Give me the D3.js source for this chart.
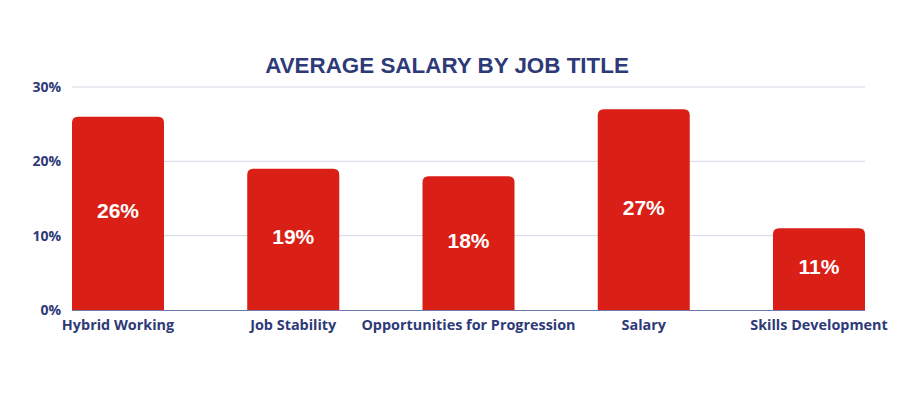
<!DOCTYPE html>
<html><head><meta charset="utf-8">
<script src="https://cdn.jsdelivr.net/npm/d3@7"></script>
<style>body{margin:0;background:#fff}</style>
</head><body>
<svg id="c" width="900" height="400"></svg>
<script>
const categories = ["Hybrid Working","Job Stability","Opportunities for Progression","Salary","Skills Development"];
const values = [26, 19, 18, 27, 11];
const yTicks = [0, 10, 20, 30];
const title = "AVERAGE SALARY BY JOB TITLE";

const svg = d3.select("#c");
const navy = "#2e3a78";
const x = d3.scaleBand().domain(categories).range([72, 865]).paddingInner(0.475).paddingOuter(0);
const y = d3.scaleLinear().domain([0, 30]).range([310, 87]);

svg.append("text").attr("x", 447).attr("y", 73).attr("text-anchor","middle")
  .attr("font-family","Liberation Sans, Arial, sans-serif").attr("font-weight","bold")
  .attr("font-size", 22.4).attr("fill", navy).text(title);

// gridlines
svg.append("g").selectAll("line").data(yTicks.filter(t=>t>0)).join("line")
  .attr("x1", 72).attr("x2", 865).attr("y1", d=>y(d)).attr("y2", d=>y(d))
  .attr("stroke", "#d4d6e6").attr("stroke-width", 1);

// y labels
svg.append("g").selectAll("text").data(yTicks).join("text")
  .attr("x", 61).attr("y", d=>y(d)+5).attr("text-anchor","end")
  .attr("font-family","Open Sans, sans-serif").attr("font-weight","bold")
  .attr("font-size", 14).attr("fill", navy).text(d=>d+"%");

// bars with rounded top corners
const r = 6;
function barPath(d, i){
  const x0 = x(categories[i]), w = x.bandwidth(), y0 = y(d), y1 = y(0);
  return `M${x0},${y1}V${y0+r}Q${x0},${y0} ${x0+r},${y0}H${x0+w-r}Q${x0+w},${y0} ${x0+w},${y0+r}V${y1}Z`;
}
svg.append("g").selectAll("path").data(values).join("path")
  .attr("d", barPath).attr("fill", "#da1f16");

// baseline
svg.append("line").attr("x1",72).attr("x2",865).attr("y1",y(0)+0.5).attr("y2",y(0)+0.5)
  .attr("stroke","#7077a8").attr("stroke-width",1);

// value labels
svg.append("g").selectAll("text").data(values).join("text")
  .attr("x", (d,i)=>x(categories[i])+x.bandwidth()/2)
  .attr("y", d=>(y(d)+y(0))/2+5).attr("text-anchor","middle")
  .attr("font-family","Liberation Sans, Arial, sans-serif").attr("font-weight","bold")
  .attr("font-size", 21).attr("fill","#fff").text(d=>d+"%");

// category labels
svg.append("g").selectAll("text").data(categories).join("text")
  .attr("x", d=>x(d)+x.bandwidth()/2).attr("y", 330).attr("text-anchor","middle")
  .attr("font-family","Open Sans, sans-serif").attr("font-weight","bold")
  .attr("font-size", 14.4).attr("fill", navy).text(d=>d);
</script>
</body></html>
